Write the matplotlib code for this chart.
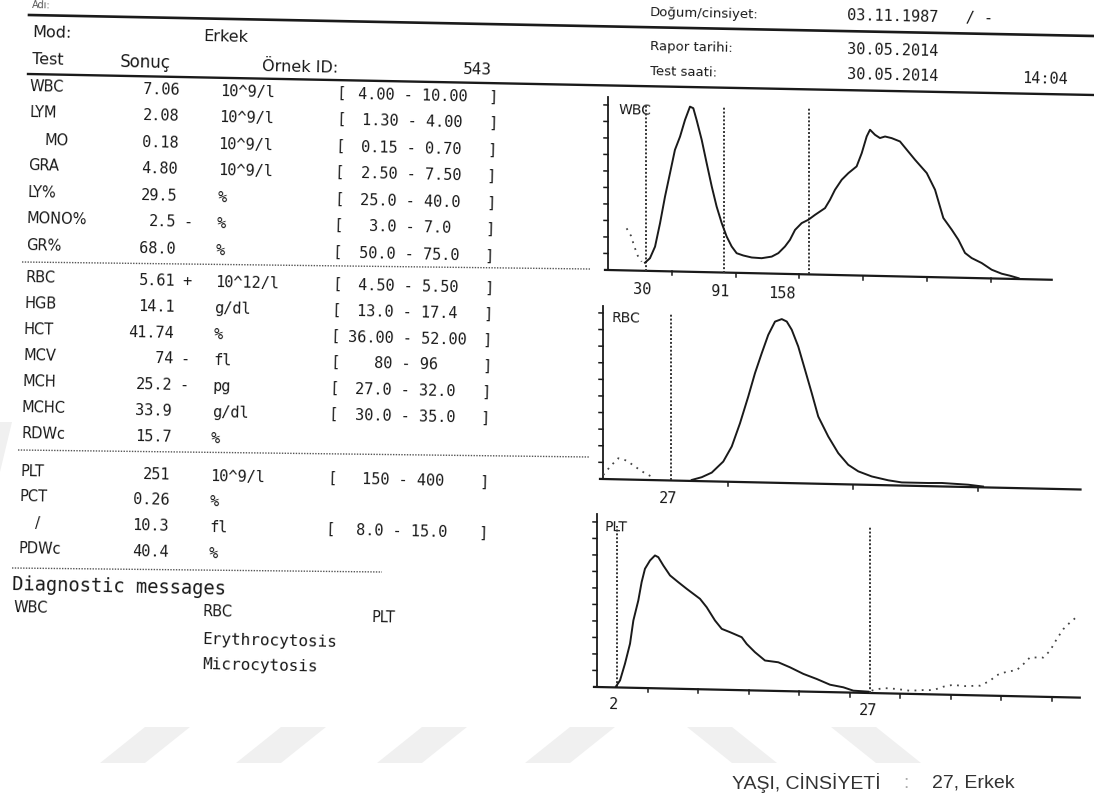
import numpy as np
import matplotlib
matplotlib.use("Agg")
import matplotlib.pyplot as plt
from matplotlib.transforms import Affine2D

W, H = 1094, 797
SLANT = 0.022          # the scan is a little tilted
DRIFT = -0.025
ANG = -np.degrees(np.arctan(SLANT))
INK = "#1a1a1a"
SANS = "DejaVu Sans"
MONO = "DejaVu Sans Mono"

# ---- table values -------------------------------------------------------
tests  = ["WBC", "LYM", "MO", "GRA", "LY%", "MONO%", "GR%",
          "RBC", "HGB", "HCT", "MCV", "MCH", "MCHC", "RDWc",
          "PLT", "PCT", "/", "PDWc"]
values = ["7.06", "2.08", "0.18", "4.80", "29.5", "2.5", "68.0",
          "5.61", "14.1", "41.74", "74", "25.2", "33.9", "15.7",
          "251", "0.26", "10.3", "40.4"]
flags  = ["", "", "", "", "", "-", "",
          "+", "", "", "-", "-", "", "",
          "", "", "", ""]
units  = ["10^9/l", "10^9/l", "10^9/l", "10^9/l", "%", "%", "%",
          "10^12/l", "g/dl", "%", "fl", "pg", "g/dl", "%",
          "10^9/l", "%", "fl", "%"]
ranges = ["4.00 - 10.00", "1.30 - 4.00", "0.15 - 0.70", "2.50 - 7.50",
          "25.0 - 40.0", "3.0 - 7.0", "50.0 - 75.0",
          "4.50 - 5.50", "13.0 - 17.4", "36.00 - 52.00", "80 - 96",
          "27.0 - 32.0", "30.0 - 35.0", "",
          "150 - 400", "", "8.0 - 15.0", ""]
row_y  = [87, 113, 140, 166, 193, 219, 246,
          278, 304, 330, 356, 382, 408, 434,
          472, 497, 523, 549]

# ---- histograms ---------------------------------------------------------
wbc_x = [29, 32.9, 36.9, 40.8, 44.7, 48.6, 52.5, 56.5, 60.4, 64.3, 66.9, 69.5,
         73.5, 77.4, 81.4, 85.2, 89.2, 93.1, 97.0, 100.9, 106.1, 112.7, 120.5,
         128.4, 133.6, 138.8, 142.7, 146.7, 151.9, 157.1, 162.4, 170.2, 174.1,
         178.0, 183.3, 188.5, 195.0, 199.0, 202.9, 205.5, 209.4, 213.3, 217.3,
         222.5, 229.0, 234.3, 240.8, 250.0, 256.5, 263.0, 269.6, 274.8, 280.0,
         285.2, 293.1, 300.9, 308.8, 315.3, 322]
wbc_y = [0.49, 0.77, 1.48, 2.90, 4.52, 5.94, 7.37, 8.18, 9.20, 10.01, 9.92, 9.21,
         8.01, 6.60, 5.19, 3.99, 2.99, 2.18, 1.59, 1.19, 1.06, 0.95, 0.92,
         1.03, 1.25, 1.66, 2.07, 2.68, 3.10, 3.31, 3.62, 4.04, 4.55,
         5.16, 5.78, 6.19, 6.61, 7.42, 8.44, 8.85, 8.55, 8.36, 8.46,
         8.37, 8.18, 7.69, 7.09, 6.30, 5.30, 3.60, 2.90, 2.30, 1.51,
         1.21, 0.92, 0.53, 0.30, 0.19, 0.05]
wbc_dot_x = [14.6, 18.0, 20.7, 23.3, 26.4]
wbc_dot_y = [2.55, 2.11, 1.45, 0.91, 0.55]
wbc_marks = [30, 91, 158]
wbc_ticks = [50, 100, 150, 200, 250, 300]

rbc_x = [35.5, 39.5, 43.5, 48.1, 51.5, 54.8, 58.1, 60.8, 63.5, 66.1, 68.8, 71.5,
         73.5, 75.5, 78.1, 80.8, 83.5, 86.1, 90.1, 94.1, 98.1, 102.1, 107.5,
         114.1, 119.5, 130.1, 135.5, 146.1, 152]
rbc_y = [0.06, 0.24, 0.53, 1.21, 2.13, 3.54, 5.16, 6.58, 7.79, 8.90, 9.71, 9.87,
         9.73, 9.24, 8.24, 6.85, 5.45, 4.05, 2.86, 1.87, 1.18, 0.80, 0.51,
         0.30, 0.19, 0.19, 0.21, 0.14, 0.05]
rbc_dot_x = [0.1, 2.8, 6.1, 9.5, 12.8, 16.8, 20.8]
rbc_dot_y = [0.24, 0.75, 1.27, 1.14, 0.79, 0.40, 0.11]
rbc_marks = [27]
rbc_ticks = [50, 100, 150]

plt_x = [1.88, 2.28, 2.77, 3.27, 3.60, 4.09, 4.42, 4.75, 5.25, 5.74, 6.07, 6.57,
         7.23, 8.05, 8.88, 10.20, 10.86, 11.68, 12.35, 13.17, 14.33, 14.82,
         15.64, 16.63, 17.95, 19.11, 20.43, 21.75, 23.07, 24.39, 25.38, 26.86]
plt_y = [0.06, 0.43, 1.45, 2.67, 4.08, 5.30, 6.42, 7.23, 7.74, 8.05, 7.95, 7.45,
         6.86, 6.46, 6.07, 5.48, 4.98, 4.19, 3.69, 3.50, 3.21, 2.81,
         2.32, 1.83, 1.74, 1.45, 1.07, 0.78, 0.45, 0.31, 0.12, 0.08]
plt_dot_x = [27.19, 28.35, 29.67, 30.99, 32.31, 33.30, 34.29, 35.28, 36.27, 37.92,
             38.91, 39.57, 40.56, 41.55, 42.21, 42.87, 44.19, 44.85, 45.51, 46.17,
             46.83, 47.5]
plt_dot_y = [0.15, 0.32, 0.28, 0.19, 0.25, 0.26, 0.48, 0.61, 0.54, 0.59,
             0.90, 1.25, 1.47, 1.58, 1.95, 2.37, 2.38, 2.80, 3.51, 4.13,
             4.54, 4.89]
plt_marks = [2, 27]
plt_ticks = [5, 10, 15, 20, 25, 30, 35, 40, 45]


fig = plt.figure(figsize=(W / 100, H / 100), dpi=100)
fig.patch.set_facecolor("white")
page = fig.add_axes([0, 0, 1, 1])
page.set_xlim(0, W)
page.set_ylim(H, 0)
page.axis("off")


def put(x, y, s, size=11, family=SANS, rot=ANG, **kw):
    kw.setdefault("va", "center")
    kw.setdefault("ha", "left")
    kw.setdefault("color", INK)
    page.text(x, y, s, fontsize=size, family=family, rotation=rot,
              rotation_mode="anchor", **kw)


def cell(col_x, ry, s, **kw):
    put(col_x + DRIFT * (ry - 87), ry + SLANT * (col_x - 30), s, **kw)


# faint watermark stripes
for xb in [100, 236, 377, 525]:
    page.fill([xb, xb + 45, xb + 90, xb + 45], [763, 763, 727, 727],
              color="#f0f0f0", lw=0, zorder=0)
for xt in [687, 831]:
    page.fill([xt, xt + 45, xt + 90, xt + 45], [727, 727, 763, 763],
              color="#f0f0f0", lw=0, zorder=0)
page.fill([0, 12, 0], [422, 422, 472], color="#f0f0f0", lw=0, zorder=0)

# header
put(32, 5, "Adı:", size=7, color="#555555")
page.plot([29, 1094], [15, 36], color=INK, lw=1.9)
page.plot([28, 1094], [74, 95], color=INK, lw=1.7)
put(32, 33, "Mod:", size=11.5)
put(203, 37, "Erkek", size=11.5)
put(32, 60, "Test", size=11.5)
put(120, 62, "Sonuç", size=12)
put(262, 66, "Örnek ID:", size=11.5)
put(463, 70, "543", size=11.5, family=MONO)

put(650, 13, "Doğum/cinsiyet:", size=9.5)
put(847, 16, "03.11.1987   / -", size=11, family=MONO)
put(650, 47, "Rapor tarihi:", size=9.5)
put(847, 50, "30.05.2014", size=11, family=MONO)
put(650, 72, "Test saati:", size=9.5)
put(847, 75, "30.05.2014", size=11, family=MONO)
put(1022, 79, "14:04", size=11, family=MONO)

# table
for name, val, flag, unit, rng, ry in zip(tests, values, flags, units, ranges, row_y):
    lx = 46 if name in ("MO", "/") else 30
    cell(lx, ry, name, size=10.5)
    cell(180, ry, val, size=11, family=MONO, ha="right")
    if flag:
        cell(187, ry, flag, size=11, family=MONO)
    cell(220, ry, unit, size=11, family=MONO)
    if rng:
        cell(337, ry, "[", size=11, family=MONO)
        cell(413, ry, rng, size=11, family=MONO, ha="center")
        cell(489, ry, "]", size=11, family=MONO)

for x1, y1, x2, y2 in [(22, 262, 590, 269), (18, 450, 590, 457), (12, 568, 382, 572)]:
    page.plot([x1, x2], [y1, y2], color="#555555", lw=1.0, ls=(0, (1, 1)))

put(12, 585, "Diagnostic messages", size=13.5, family=MONO)
put(14, 608, "WBC", size=10.5)
put(203, 612, "RBC", size=10.5)
put(372, 618, "PLT", size=10.5)
put(203, 640, "Erythrocytosis", size=11.5, family=MONO)
put(203, 665, "Microcytosis", size=11.5, family=MONO)

put(732, 783, "YAŞI, CİNSİYETİ", size=14, family="Liberation Sans",
    color="#333333", rot=0)
put(903, 783, ":", size=14, family="Liberation Sans", color="#aaaaaa", rot=0)
put(932, 783, "27, Erkek", size=14, family="Liberation Sans", color="#333333", rot=0)


def histo(x0, base, ppu_x, xmax, ppu_y, ymax, ticks):
    ax = fig.add_axes([x0 / W, (H - base) / H, xmax * ppu_x / W, ymax * ppu_y / H])
    ax.set_xlim(0, xmax)
    ax.set_ylim(0, ymax)
    ax.axis("off")
    ax.patch.set_visible(False)
    tr = ax.transData + Affine2D().translate(-x0, base - H) \
        .skew(0, -np.arctan(SLANT)).translate(x0, H - base)
    ax.plot([0, 0], [0, ymax], color=INK, lw=1.3, transform=tr, clip_on=False)
    ax.plot([-3 / ppu_x, xmax], [0, 0], color=INK, lw=1.6, transform=tr, clip_on=False)
    for v in range(1, int(ymax) + 1):
        ax.plot([-4 / ppu_x, 0], [v, v], color=INK, lw=1.1, transform=tr, clip_on=False)
    for t in ticks:
        ax.plot([t, t], [0, -4 / ppu_y], color=INK, lw=1.1, transform=tr, clip_on=False)
    return ax, tr


def draw(ax, tr, x, y, dx, dy, marks, mark_h):
    for m, h in zip(marks, mark_h):
        ax.plot([m, m], [0, h], color="#333333", lw=1.4, ls=(0, (1, 1)),
                transform=tr, clip_on=False)
    ax.plot(dx, dy, color="#444444", lw=1.3, ls=(0, (1, 3)), transform=tr, clip_on=False)
    ax.plot(x, y, color=INK, lw=1.4, transform=tr, clip_on=False)


ax, tr = histo(608, 270, 1.275, 348, 16.5, 10.5, wbc_ticks)
draw(ax, tr, wbc_x, wbc_y, wbc_dot_x, wbc_dot_y, wbc_marks, [10.1, 10.1, 10.1])
put(619, 110, "WBC", size=10)
put(642, 290, "30", size=11, family=MONO, ha="center")
put(720, 292, "91", size=11, family=MONO, ha="center")
put(782, 294, "158", size=11, family=MONO, ha="center")

ax, tr = histo(603, 479, 2.5, 191, 16.6, 10.4, rbc_ticks)
draw(ax, tr, rbc_x, rbc_y, rbc_dot_x, rbc_dot_y, rbc_marks, [10.1])
put(612, 318, "RBC", size=10)
put(668, 499, "27", size=11, family=MONO, ha="center")

ax, tr = histo(597, 687, 10.1, 47.8, 16.5, 10.5, plt_ticks)
draw(ax, tr, plt_x, plt_y, plt_dot_x, plt_dot_y, plt_marks, [9.8, 10.1])
put(605, 527, "PLT", size=10)
put(614, 705, "2", size=11, family=MONO, ha="center")
put(868, 711, "27", size=11, family=MONO, ha="center")

fig.savefig("out.png", dpi=100, facecolor="white")
